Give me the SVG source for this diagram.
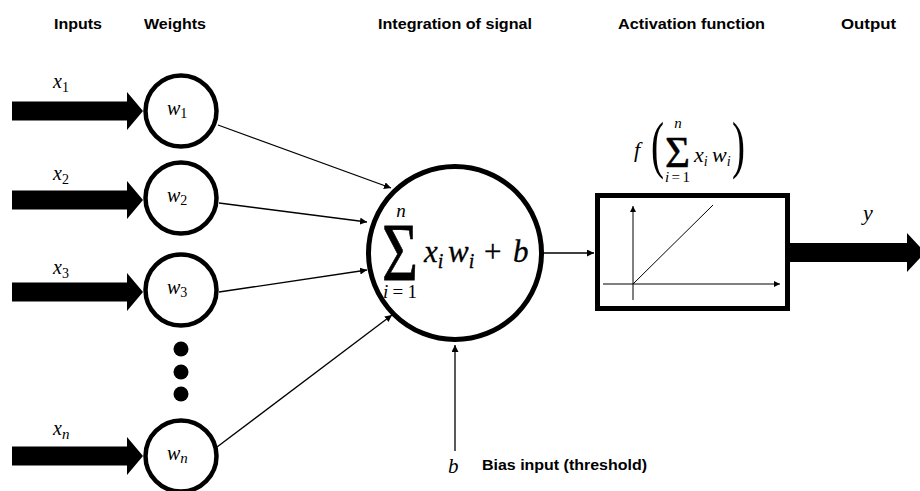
<svg xmlns="http://www.w3.org/2000/svg" width="920" height="491" viewBox="0 0 920 491">
<style>
.hdr{font-family:"Liberation Sans",Arial,sans-serif;font-weight:bold;font-size:15px;fill:#000}
.m{font-family:"Liberation Serif","DejaVu Serif",serif;font-style:italic;fill:#000}
.r{font-family:"Liberation Serif","DejaVu Serif",serif;fill:#000}
.wc{fill:#fff;stroke:#000;stroke-width:4.5}
.thin{stroke:#000;stroke-width:1.3;fill:none}
.ax{stroke:#000;stroke-width:1;fill:none}
</style>
<defs>
<marker id="ah" viewBox="0 0 10 10" refX="10" refY="5" markerWidth="7" markerHeight="7" markerUnits="userSpaceOnUse" orient="auto">
<path d="M0,0 L10,5 L0,10 Z" fill="#000"/>
</marker>
<marker id="ah2" viewBox="0 0 10 10" refX="10" refY="5" markerWidth="6" markerHeight="6" markerUnits="userSpaceOnUse" orient="auto">
<path d="M0,0 L10,5 L0,10 Z" fill="#000"/>
</marker>
<path id="fat" d="M0,-9.5 H115 V-19 L131,0 L115,19 V9.5 H0 Z" fill="#000"/>
</defs>

<g id="headers">
<text class="hdr" x="54" y="29" textLength="48" lengthAdjust="spacingAndGlyphs">Inputs</text>
<text class="hdr" x="144" y="29" textLength="62" lengthAdjust="spacingAndGlyphs">Weights</text>
<text class="hdr" x="378" y="29" textLength="154" lengthAdjust="spacingAndGlyphs">Integration of signal</text>
<text class="hdr" x="618" y="29" textLength="147" lengthAdjust="spacingAndGlyphs">Activation function</text>
<text class="hdr" x="841" y="29" textLength="55" lengthAdjust="spacingAndGlyphs">Output</text>
</g>

<g id="input-1">
<use href="#fat" x="12" y="111"/>
<text class="m" x="53" y="88" font-size="20">x<tspan class="r" font-style="normal" font-size="14" dy="4">1</tspan></text>
</g>
<g id="input-2">
<use href="#fat" x="12" y="200"/>
<text class="m" x="53" y="180" font-size="20">x<tspan class="r" font-style="normal" font-size="14" dy="4">2</tspan></text>
</g>
<g id="input-3">
<use href="#fat" x="12" y="292"/>
<text class="m" x="53" y="274" font-size="20">x<tspan class="r" font-style="normal" font-size="14" dy="4">3</tspan></text>
</g>
<g id="input-n">
<use href="#fat" x="12" y="456"/>
<text class="m" x="53" y="435" font-size="20">x<tspan font-size="15" dy="4">n</tspan></text>
</g>

<g id="weight-1">
<circle class="wc" cx="181" cy="111" r="35.5"/>
<text class="m" x="167" y="115" font-size="20">w<tspan class="r" font-style="normal" font-size="14" dy="3">1</tspan></text>
</g>
<g id="weight-2">
<circle class="wc" cx="181" cy="198" r="35.5"/>
<text class="m" x="167" y="202" font-size="20">w<tspan class="r" font-style="normal" font-size="14" dy="3">2</tspan></text>
</g>
<g id="weight-3">
<circle class="wc" cx="181" cy="290" r="35.5"/>
<text class="m" x="167" y="294" font-size="20">w<tspan class="r" font-style="normal" font-size="14" dy="3">3</tspan></text>
</g>
<g id="ellipsis">
<circle cx="181" cy="349" r="7.5" fill="#000"/>
<circle cx="181" cy="372" r="7.5" fill="#000"/>
<circle cx="181" cy="394" r="7.5" fill="#000"/>
</g>
<g id="weight-n">
<circle class="wc" cx="181" cy="456" r="35.5"/>
<text class="m" x="167" y="460" font-size="20">w<tspan font-size="15" dy="3">n</tspan></text>
</g>

<g id="connectors">
<line class="thin" x1="218" y1="125" x2="391" y2="188" marker-end="url(#ah)"/>
<line class="thin" x1="219" y1="203" x2="367" y2="222" marker-end="url(#ah)"/>
<line class="thin" x1="219" y1="292" x2="367" y2="270" marker-end="url(#ah)"/>
<line class="thin" x1="217" y1="447" x2="392" y2="315" marker-end="url(#ah)"/>
<line class="thin" x1="543" y1="253" x2="594" y2="253" marker-end="url(#ah)"/>
<line class="thin" x1="455" y1="451" x2="455" y2="345" marker-end="url(#ah)"/>
</g>

<g id="summation">
<circle cx="455" cy="253" r="86.5" fill="#fff" stroke="#000" stroke-width="5"/>
<text class="r" x="382" y="280" font-size="83" textLength="36" lengthAdjust="spacingAndGlyphs" stroke="#000" stroke-width="0.8">Σ</text>
<text class="m" x="401" y="217" font-size="19" text-anchor="middle">n</text>
<text class="m" x="383" y="298" font-size="19" textLength="34" lengthAdjust="spacing">i<tspan class="r" font-style="normal">=1</tspan></text>
<text class="m" font-size="31" y="262" stroke="#000" stroke-width="0.3"><tspan x="424">x</tspan><tspan font-size="20" dy="6">i</tspan><tspan x="448" dy="-6">w</tspan><tspan font-size="20" dy="6">i</tspan><tspan class="r" font-style="normal" x="484" dy="-6">+</tspan><tspan x="513">b</tspan></text>
</g>

<g id="activation">
<text class="m" x="634" y="157" font-size="22">f</text>
<text class="r" x="651" y="166" font-size="64" textLength="13" lengthAdjust="spacingAndGlyphs">(</text>
<text class="r" x="665" y="167" font-size="44" textLength="25" lengthAdjust="spacingAndGlyphs" stroke="#000" stroke-width="0.5">Σ</text>
<text class="m" x="678" y="128" font-size="15" text-anchor="middle">n</text>
<text class="m" x="665" y="182" font-size="15" textLength="25" lengthAdjust="spacing">i<tspan class="r" font-style="normal">=1</tspan></text>
<text class="m" font-size="22" y="162"><tspan x="694">x</tspan><tspan font-size="14" dy="4">i</tspan><tspan x="712" dy="-4">w</tspan><tspan font-size="14" dy="4">i</tspan></text>
<text class="r" x="732" y="166" font-size="64" textLength="13" lengthAdjust="spacingAndGlyphs">)</text>
<rect x="597.5" y="195.5" width="190" height="113" fill="#fff" stroke="#000" stroke-width="5"/>
<line class="ax" x1="633" y1="300" x2="633" y2="206" marker-end="url(#ah2)"/>
<line class="ax" x1="603" y1="284" x2="780" y2="284" marker-end="url(#ah2)"/>
<line class="ax" x1="633" y1="284" x2="713" y2="205"/>
</g>

<g id="output">
<path d="M790,243 H907 V233 L925,252.5 L907,272 V262 H790 Z" fill="#000"/>
<text class="m" x="863" y="220" font-size="22">y</text>
</g>

<g id="bias">
<text class="m" x="448" y="473" font-size="21">b</text>
<text class="hdr" x="482" y="470" textLength="165" lengthAdjust="spacingAndGlyphs">Bias input (threshold)</text>
</g>
</svg>
